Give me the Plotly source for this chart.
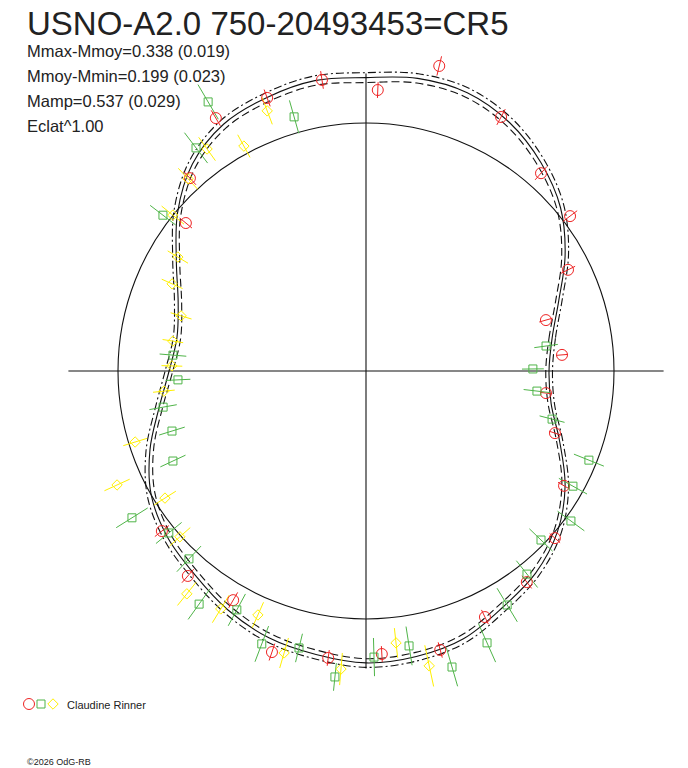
"""Polar light curve of USNO-A2.0 750-20493453 (CR5)."""

import numpy as np
import plotly.graph_objects as go

# Texts.
title = 'USNO-A2.0 750-20493453=CR5'
info_lines = [
    'Mmax-Mmoy=0.338 (0.019)',
    'Mmoy-Mmin=0.199 (0.023)',
    'Mamp=0.537 (0.029)',
    'Eclat^1.00',
]
observer = 'Claudine Rinner'
credit = '©2026 OdG-RB'

# Reference circle and axis cross (relative units, circle = 1).
ref_radius = 1.0
axis_extent = 1.2

# Fitted curve (phase in degrees, relative radius), with the two error curves.
curve_phase = [0, 10, 20, 30, 40, 50, 60, 70, 80, 90, 100, 110, 120, 130, 140, 150, 160, 170, 180,
               190, 200, 210, 220, 230, 240, 250, 260, 270, 280, 290, 300, 310, 320, 330, 340, 350, 360]
curve_r = [0.738, 0.762, 0.827, 0.927, 1.024, 1.097, 1.157, 1.194, 1.198, 1.183, 1.189, 1.173, 1.149,
           1.089, 0.992, 0.883, 0.806, 0.774, 0.794, 0.847, 0.927, 1.000, 1.044, 1.073, 1.113, 1.145,
           1.161, 1.177, 1.169, 1.149, 1.101, 1.064, 1.008, 0.927, 0.831, 0.758, 0.738]
curve_r_low = [0.725, 0.749, 0.813, 0.911, 1.007, 1.079, 1.139, 1.175, 1.179, 1.163, 1.170, 1.155, 1.131,
               1.071, 0.975, 0.867, 0.791, 0.759, 0.779, 0.832, 0.911, 0.983, 1.027, 1.056, 1.095, 1.127,
               1.143, 1.160, 1.152, 1.132, 1.084, 1.047, 0.992, 0.912, 0.817, 0.745, 0.725]
curve_r_high = [0.752, 0.776, 0.842, 0.943, 1.041, 1.115, 1.176, 1.213, 1.217, 1.203, 1.208, 1.192, 1.168,
                1.107, 1.010, 0.900, 0.822, 0.789, 0.810, 0.863, 0.944, 1.017, 1.061, 1.091, 1.131, 1.163,
                1.179, 1.195, 1.187, 1.167, 1.119, 1.081, 1.025, 0.943, 0.846, 0.772, 0.752]

# Measurements: red circles.
red_phase = [4.7, 15.8, 26.6, 37.2, 48.5, 62.0, 76.5, 87.6, 98.6, 109.9, 120.7, 132.4, 140.6,
             218.1, 229.0, 239.9, 251.5, 262.5, 273.2, 284.9, 295.8, 307.3, 318.5, 329.9, 341.8, 353.0]
red_r = [0.793, 0.754, 0.911, 1.033, 1.065, 1.160, 1.265, 1.134, 1.187, 1.171, 1.186, 1.053, 0.940,
         1.046, 1.095, 1.068, 1.195, 1.167, 1.143, 1.164, 1.102, 1.070, 1.017, 0.923, 0.802, 0.731]
red_err = [0.024, 0.028, 0.032, 0.036, 0.036, 0.036, 0.040, 0.032, 0.036, 0.036, 0.036, 0.036, 0.032,
           0.036, 0.036, 0.036, 0.036, 0.032, 0.032, 0.032, 0.032, 0.032, 0.028, 0.028, 0.024, 0.024]

# Measurements: green squares.
green_phase = [0.7, 7.9, 105.8, 120.4, 127.3, 142.5, 175.3, 182.7, 190.1, 197.2, 205.0, 212.1, 219.4,
               226.7, 234.4, 241.6, 249.1, 256.4, 264.2, 271.6, 278.9, 286.2, 294.0, 301.1, 308.4,
               316.0, 323.8, 330.9, 338.2, 345.5, 353.3]
green_r = [0.673, 0.733, 1.065, 1.258, 1.131, 1.032, 0.781, 0.759, 0.831, 0.819, 0.859, 1.114, 1.029,
           1.041, 1.156, 1.095, 1.178, 1.149, 1.240, 1.154, 1.122, 1.243, 1.200, 1.102, 1.045,
           0.981, 1.024, 0.955, 0.968, 0.775, 0.694]
green_err = [0.044, 0.048, 0.069, 0.081, 0.077, 0.065, 0.054, 0.050, 0.056, 0.054, 0.056, 0.075, 0.067,
             0.071, 0.076, 0.073, 0.077, 0.059, 0.056, 0.077, 0.079, 0.081, 0.085, 0.079, 0.069,
             0.065, 0.067, 0.065, 0.065, 0.052, 0.054]

# Measurements: yellow diamonds.
yellow_phase = [110.8, 118.5, 125.6, 132.8, 141.1, 148.8, 155.8, 163.4, 171.2, 178.5, 185.7,
                197.1, 204.6, 212.3, 221.7, 231.2, 238.6, 246.1, 253.8, 265.2, 276.3, 282.1]
yellow_r = [1.122, 1.032, 1.101, 1.056, 1.001, 0.887, 0.857, 0.778, 0.788, 0.783, 0.819,
            0.974, 1.104, 0.959, 1.005, 1.153, 1.124, 1.076, 1.184, 1.206, 1.103, 1.216]
yellow_err = [0.058, 0.052, 0.058, 0.058, 0.058, 0.048, 0.046, 0.044, 0.042, 0.042, 0.044,
              0.050, 0.056, 0.052, 0.056, 0.060, 0.065, 0.056, 0.063, 0.065, 0.060, 0.085]

# Page geometry (the page body adds an 8 px margin round the figure).
width, height = 680, 760
center_px = (358, 363)
px_per_unit = 248.0
font_family = 'Liberation Sans, Arial, sans-serif'
text_color = '#222222'
line_color = '#111111'

series = [
    (red_phase, red_r, red_err, '#ee2424', 'circle-open', 11),
    (green_phase, green_r, green_err, '#4fb448', 'square-open', 8),
    (yellow_phase, yellow_r, yellow_err, '#fff000', 'diamond-open', 8),
]


def to_xy(phase, r):
    theta = np.radians(np.asarray(phase, dtype=float))
    r = np.asarray(r, dtype=float)
    return r * np.cos(theta), r * np.sin(theta)


def radial_bars(phase, r, err):
    xs, ys = [], []
    for p, rr, e in zip(phase, r, err):
        x, y = to_xy([p, p], [rr - e, rr + e])
        xs += list(x) + [None]
        ys += list(y) + [None]
    return xs, ys


figure = go.Figure()

# Curves.
for radii, dash in [(curve_r_low, '8px,4px'), (curve_r_high, '8px,3px,2px,3px'), (curve_r, 'solid')]:
    x, y = to_xy(curve_phase, radii)
    figure.add_scatter(
        x=x, y=y, mode='lines',
        line=dict(color=line_color, width=1.1, dash=dash, shape='spline', smoothing=1.0),
        hoverinfo='skip', showlegend=False
    )

# Measurements with radial error bars.
for phase, r, err, color, symbol, size in series:
    bx, by = radial_bars(phase, r, err)
    figure.add_scatter(
        x=bx, y=by, mode='lines', line=dict(color=color, width=1),
        hoverinfo='skip', showlegend=False
    )
for phase, r, err, color, symbol, size in series:
    x, y = to_xy(phase, r)
    figure.add_scatter(
        x=x, y=y, mode='markers',
        marker=dict(symbol=symbol, size=size, color=color, line=dict(color=color, width=1)),
        cliponaxis=False, showlegend=False
    )

# Legend key on its own small axes.
for i, (phase, r, err, color, symbol, size) in enumerate(series):
    figure.add_scatter(
        x=[i], y=[0], mode='markers', xaxis='x2', yaxis='y2',
        marker=dict(symbol=symbol, size=size, color=color, line=dict(color=color, width=1)),
        cliponaxis=False, showlegend=False, hoverinfo='skip'
    )

# Reference circle and axis cross.
shapes = [
    dict(type='circle', xref='x', yref='y', x0=-ref_radius, x1=ref_radius, y0=-ref_radius, y1=ref_radius,
         line=dict(color=line_color, width=1.1), layer='below'),
    dict(type='line', xref='x', yref='y', x0=-axis_extent, x1=axis_extent, y0=0, y1=0,
         line=dict(color=line_color, width=1.1), layer='below'),
    dict(type='line', xref='x', yref='y', x0=0, x1=0, y0=-axis_extent, y1=axis_extent,
         line=dict(color=line_color, width=1.1), layer='below'),
]

annotations = [
    dict(text=title, x=17 / width, y=1 - 15 / height, xref='paper', yref='paper',
         xanchor='left', yanchor='middle', showarrow=False,
         font=dict(family=font_family, size=33, color=text_color))
]
for i, line in enumerate(info_lines):
    annotations.append(dict(
        text=line, x=17 / width, y=1 - (43 + 25 * i) / height, xref='paper', yref='paper',
        xanchor='left', yanchor='middle', showarrow=False,
        font=dict(family=font_family, size=16.5, color=text_color)
    ))
annotations.append(dict(
    text=observer, x=57 / width, y=1 - 697 / height, xref='paper', yref='paper',
    xanchor='left', yanchor='middle', showarrow=False,
    font=dict(family=font_family, size=11, color=text_color)
))
annotations.append(dict(
    text=credit, x=17 / width, y=1 - 754 / height, xref='paper', yref='paper',
    xanchor='left', yanchor='middle', showarrow=False,
    font=dict(family=font_family, size=9, color=text_color)
))

hidden = dict(visible=False, showgrid=False, zeroline=False)
figure.update_layout(
    width=width, height=height,
    margin=dict(l=0, r=0, t=0, b=0),
    paper_bgcolor='white', plot_bgcolor='white',
    xaxis=dict(hidden, domain=[0, 1],
               range=[-center_px[0] / px_per_unit, (width - center_px[0]) / px_per_unit]),
    yaxis=dict(hidden, domain=[0, 1],
               range=[-(height - center_px[1]) / px_per_unit, center_px[1] / px_per_unit]),
    xaxis2=dict(hidden, domain=[15 / width, 51 / width], range=[-0.5, 2.5], anchor='y2'),
    yaxis2=dict(hidden, domain=[52 / height, 76 / height], range=[-1, 1], anchor='x2'),
    shapes=shapes,
    annotations=annotations,
    showlegend=False
)

fig = figure
fig.write_html("out.html")
